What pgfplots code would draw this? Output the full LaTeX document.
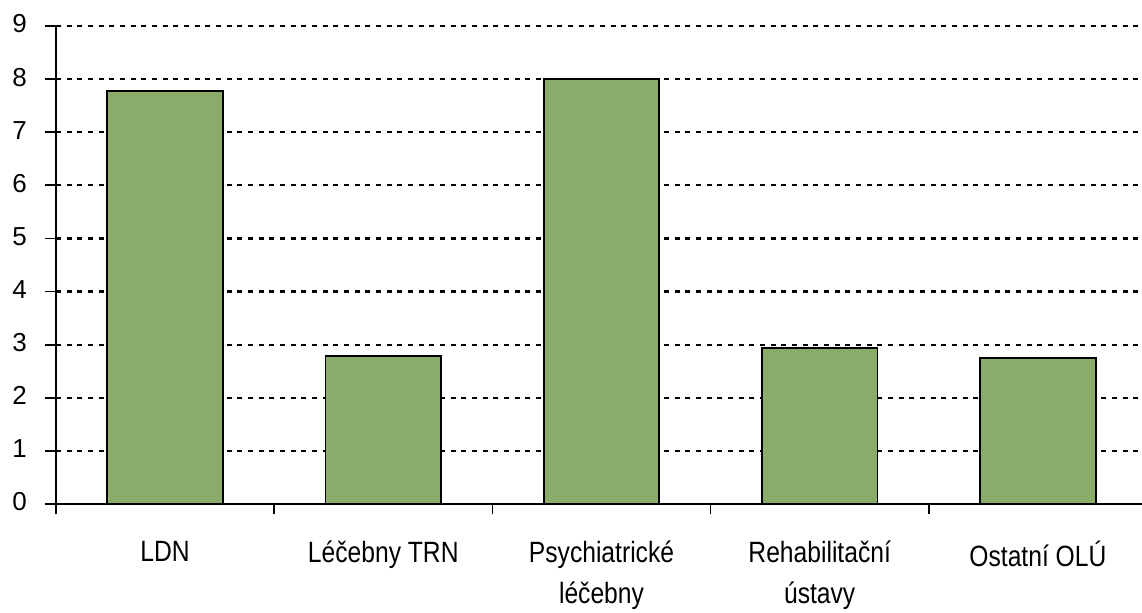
\documentclass[border=0pt]{standalone}
\usepackage{fontspec}
\setmainfont{Liberation Sans}
\newfontfamily\labfont{Liberation Sans}[FakeStretch=0.84]
\usepackage{pgfplots}
\pgfplotsset{compat=1.18}
\definecolor{barfill}{RGB}{138,171,105}
\begin{document}
\begin{tikzpicture}
\useasboundingbox (-42pt,-81pt) rectangle (814.5pt,378pt);
\begin{axis}[
  at={(0,0)}, anchor=south west,
  scale only axis,
  width=818.25pt, height=358.5pt,
  xmin=-0.5, xmax=4.5,
  ymin=0, ymax=9,
  axis x line=bottom, axis y line=left,
  axis line style={-, line width=1.3pt, black},
  xtick={0,1,2,3,4},
  xticklabels={LDN, Léčebny TRN, {Psychiatrické\\léčebny}, {Rehabilitační\\ústavy}, Ostatní OLÚ},
  minor xtick={-0.5,0.5,1.5,2.5,3.5,4.5},
  major x tick style={draw=none},
  minor x tick style={line width=1.3pt, black},
  minor tick length=7.5pt,
  ytick={0,1,...,9},
  major y tick style={line width=1.3pt, black},
  major tick length=8.25pt,
  tick align=outside,
  ymajorgrids,
  major grid style={black, line width=1.6pt, dash pattern=on 3.75pt off 4.25pt},
  /pgf/number format/assume math mode=true,
  yticklabel style={font=\fontsize{19.5}{22}\selectfont, anchor=east, xshift=-10pt, yshift=1.5pt},
  xticklabel style={font=\labfont\fontsize{22}{30.75}\selectfont, align=center, anchor=north, yshift=-16pt},
  clip=false,
]
\addplot[ybar, bar width=0.53, fill=barfill, draw=black, line width=1.4pt]
  coordinates {(0,7.77) (1,2.79) (2,8.0) (3,2.93) (4,2.75)};
\end{axis}
\end{tikzpicture}
\end{document}
